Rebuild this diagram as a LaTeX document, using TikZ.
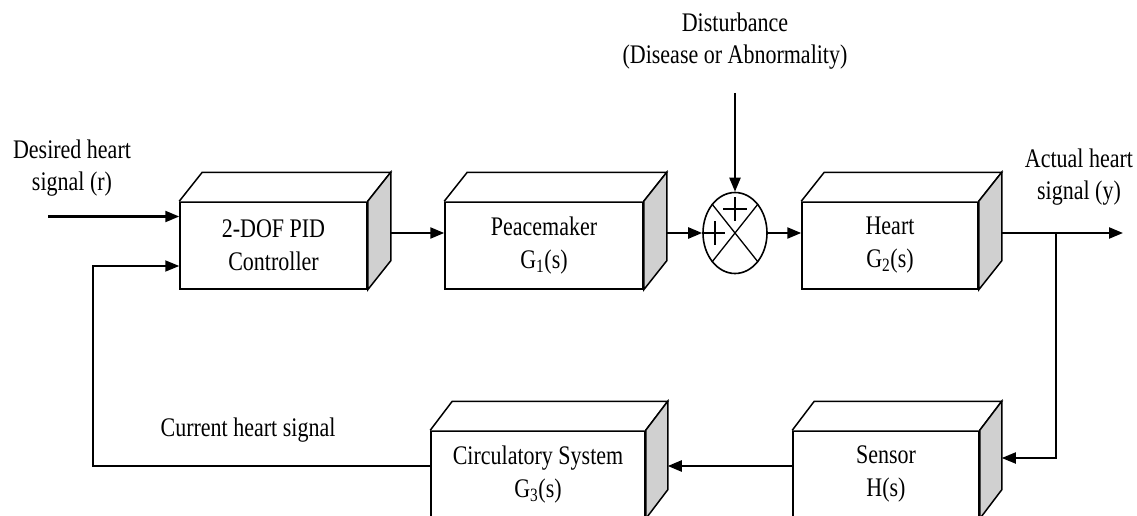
\documentclass[tikz,border=0pt]{standalone}
\usepackage{fontspec}
\setmainfont{Liberation Serif}
\usepackage{graphicx}
\usetikzlibrary{shapes.geometric,arrows.meta}
\definecolor{sidegray}{RGB}{208,208,208}
\newcommand\st[1]{\scalebox{1}[1.22]{#1}}
\newcommand\cubefaces[3]{%
  \draw[face,fill=white] (#1.north west) -- ([shift={(#2,#3)}]#1.north west) -- ([shift={(#2,#3)}]#1.north east) -- (#1.north east);
  \draw[face,fill=sidegray] (#1.north east) -- ([shift={(#2,#3)}]#1.north east) -- ([shift={(#2,#3)}]#1.south east) -- (#1.south east) -- cycle;}
\begin{document}
\begin{tikzpicture}[x=1pt,y=-1pt,
  face/.style={draw=black,line width=1.5pt,line join=miter},
  blk/.style={draw=black,line width=1.5pt,minimum height=87pt,inner sep=0pt,font=\fontsize{22}{33}\selectfont,align=center,fill=white},
  txt/.style={font=\fontsize{22}{32}\selectfont,align=center,inner sep=0pt},
  arr/.style={line width=2.3pt,-{Triangle[length=14pt,width=11pt]}},
  plus/.style={line width=1.6pt}]
\useasboundingbox (0,0) rectangle (1137,516);
\clip (0,0) rectangle (1137,516);

% blocks
\node[blk,minimum width=187pt] (ctrl) at (273.5,245.5) {\st{2-DOF PID}\\\st{Controller}};
\cubefaces{ctrl}{23}{-29}
\node[blk,minimum width=198pt] (pace) at (544,245.5) {\st{Peacemaker}\\\st{G\textsubscript{1}(s)}};
\cubefaces{pace}{23}{-29}
\node[blk,minimum width=176pt] (heart) at (890,245.5) {\st{Heart}\\\st{G\textsubscript{2}(s)}};
\cubefaces{heart}{23}{-29}
\node[blk,minimum width=186pt] (sens) at (886,474.5) {\raisebox{6pt}{\st{Sensor}}\\\raisebox{6pt}{\st{H(s)}}};
\cubefaces{sens}{22}{-29}
\node[blk,minimum width=214pt] (circ) at (538,474.5) {\raisebox{4pt}{\st{Circulatory System}}\\\raisebox{4pt}{\st{G\textsubscript{3}(s)}}};
\cubefaces{circ}{22}{-29}

% summing junction
\node[ellipse,draw=black,line width=1.6pt,minimum width=64pt,minimum height=81pt,inner sep=0pt] (sum) at (735,233) {};
\draw[line width=1.3pt] (sum.north east) -- (sum.south west);
\draw[line width=1.3pt] (sum.north west) -- (sum.south east);
\draw[plus] ([shift={(-12,-24)}]sum.center) -- ++(24,0);
\draw[plus] ([shift={(0,-36)}]sum.center) -- ++(0,24);
\draw[plus] ([shift={(-31,0)}]sum.center) -- ++(21,0);
\draw[plus] ([shift={(-20,-12)}]sum.center) -- ++(0,24);

% labels
\node[txt] (dist) at (735,41) {\st{Disturbance}\\\st{(Disease or Abnormality)}};
\node[txt] (des) at (72,168) {\st{Desired heart}\\\st{signal (r)}};
\node[txt] (act) at (1079,177) {\st{Actual heart}\\\st{signal (y)}};
\node[txt] (cur) at (248,430) {\st{Current heart signal}};

% connectors
\coordinate (rin) at (48,216.5);
\coordinate (dtop) at (735,93);
\coordinate (yout) at (1123,233);
\coordinate (br) at (1056,233);
\coordinate (fb) at (93,466);

\draw[arr] (rin) -- (rin -| ctrl.west);
\draw[arr,line width=1.8pt] (circ.west |- fb) -- (fb) |- ([shift={(0,20.5)}]ctrl.west);
\draw[arr] ([shift={(23,-12.5)}]ctrl.east) -- (pace.west |- 0,233);
\draw[arr] ([shift={(23,-12.5)}]pace.east) -- (sum.west);
\draw[arr] (dtop) -- (sum.north);
\draw[arr] (sum.east) -- (heart.west |- sum.east);
\draw[arr] ([shift={(23,-12.5)}]heart.east) -- (yout);
\draw[arr,line width=1.8pt] (br) |- ([shift={(22,-16.5)}]sens.east);
\draw[arr] ([shift={(0,-8.5)}]sens.west) -- ([shift={(22,-8.5)}]circ.east);
\end{tikzpicture}
\end{document}
